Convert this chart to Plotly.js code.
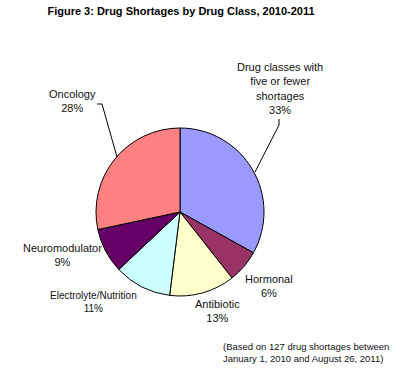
<!DOCTYPE html>
<html>
<head>
<meta charset="utf-8">
<script src="https://cdn.plot.ly/plotly-3.0.1.min.js"></script>
<style>html,body{margin:0;padding:0;background:#fff;}#chart{width:400px;height:373px;}</style>
</head>
<body>
<div id="chart"></div>
<script>
const categories = ["Drug classes with five or fewer shortages", "Hormonal", "Antibiotic", "Electrolyte/Nutrition", "Neuromodulator", "Oncology"];
const shortages = [42, 8, 16, 14, 11, 36];
const percentLabels = ["33%", "6%", "13%", "11%", "9%", "28%"];
const sliceColors = ["#9999FF", "#993366", "#FFFFCC", "#CCFFFF", "#660066", "#FF8080"];
const titleText = "Figure 3: Drug Shortages by Drug Class, 2010-2011";
const footnote = "(Based on 127 drug shortages between<br>January 1, 2010 and August 26, 2011)";

const W = 400, H = 373;
const px = x => x / W;
const py = y => 1 - y / H;

// label positions (pixel centers) and display names
const labelText = [
  "Drug classes with<br>five or fewer<br>shortages<br>" + percentLabels[0],
  "Hormonal<br>" + percentLabels[1],
  "Antibiotic<br>" + percentLabels[2],
  "Electrolyte/Nutrition<br>" + percentLabels[3],
  "Neuromodulator<br>" + percentLabels[4],
  "Oncology<br>" + percentLabels[5]
];
const labelPos = [[280, 89], [269, 286], [217, 311], [93, 302], [62, 255], [72, 101]];
const labelSize = [11, 11, 11, 10, 11, 11];

const annotations = labelText.map((t, i) => ({
  text: t, xref: 'paper', yref: 'paper',
  x: px(labelPos[i][0]), y: py(labelPos[i][1]),
  xanchor: 'center', yanchor: 'middle', showarrow: false,
  font: {family: 'Liberation Sans, Arial, sans-serif', size: labelSize[i], color: '#111'}
}));
annotations.push({
  text: footnote, xref: 'paper', yref: 'paper', align: 'left',
  x: px(221), y: py(352), xanchor: 'left', yanchor: 'middle', showarrow: false,
  font: {family: 'Liberation Sans, Arial, sans-serif', size: 9.5, color: '#111'}
});

function pathPx(pts) {
  return pts.map((p, i) => (i ? 'L' : 'M') + ' ' + px(p[0]) + ' ' + py(p[1])).join(' ');
}

const shapes = [
  {type: 'path', xref: 'paper', yref: 'paper', path: pathPx([[279, 119], [279, 125], [255, 172]]), line: {color: '#000', width: 1}},
  {type: 'path', xref: 'paper', yref: 'paper', path: pathPx([[97, 104], [102, 104], [117, 157]]), line: {color: '#000', width: 1}}
];

const data = [{
  type: 'pie',
  labels: categories,
  values: shortages,
  sort: false,
  direction: 'clockwise',
  rotation: 0,
  textinfo: 'none',
  hoverinfo: 'label+percent',
  marker: {colors: sliceColors, line: {color: '#000', width: 1}},
  domain: {x: [px(96), px(264)], y: [py(296), py(128)]},
  showlegend: false
}];

const layout = {
  width: W, height: H,
  margin: {l: 0, r: 0, t: 0, b: 0},
  paper_bgcolor: '#fff',
  title: {text: '<b>' + titleText + '</b>', x: px(181), xanchor: 'center', y: py(11), yanchor: 'middle',
    font: {family: 'Liberation Sans, Arial, sans-serif', size: 11, color: '#000'}},
  annotations: annotations,
  shapes: shapes
};

Plotly.newPlot('chart', data, layout, {displayModeBar: false, staticPlot: true});
</script>
</body>
</html>
